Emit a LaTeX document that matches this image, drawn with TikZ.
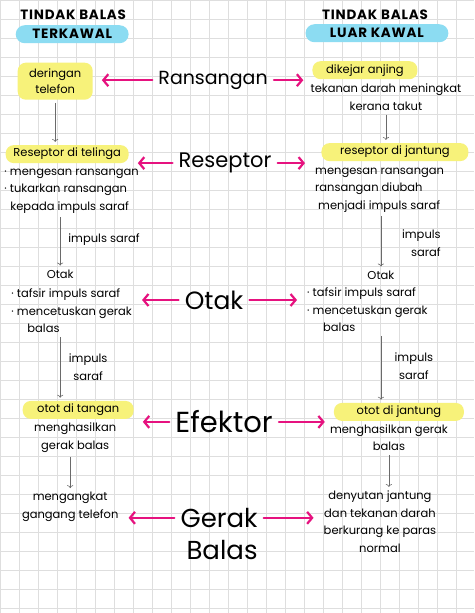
\documentclass[tikz,border=0pt]{standalone}
\usepackage{fontspec}
\setmainfont{Poppins}
\usetikzlibrary{calc, arrows.meta}

\definecolor{hlyellow}{HTML}{F7F27A}
\definecolor{hlcyan}{HTML}{8CDCF2}
\definecolor{arrowpink}{HTML}{E6127F}
\definecolor{gridgray}{HTML}{DEDEDE}
\definecolor{inkgray}{HTML}{6A6A6A}

\begin{document}
\begin{tikzpicture}[x=1pt, y=-1pt]
    \tikzstyle{marker} = [fill=hlyellow, rounded corners=8pt, minimum
        height=18pt, inner sep=2pt, font=\fontsize{11.5}{16}\selectfont]
    \tikzstyle{titlemark} = [fill=hlcyan, rounded corners=9pt, minimum
        height=18pt, inner sep=2pt,
        font=\bfseries\fontsize{13.5}{15}\selectfont\addfontfeature{LetterSpace=6}]
    \tikzstyle{heading} = [inner sep=1pt,
        font=\bfseries\fontsize{13.5}{15}\selectfont\addfontfeature{LetterSpace=6}]
    \tikzstyle{note} = [inner sep=1pt, font=\fontsize{11.5}{17.5}\selectfont]
    \tikzstyle{stage} = [inner sep=2pt]
    \tikzstyle{pinkarrow} = [-{Straight Barb[length=5pt, width=12pt]},
        arrowpink, line width=2.2pt, line cap=round, shorten <=4pt,
        shorten >=9pt]
    \tikzstyle{flow} = [->, inkgray, line width=.6pt, shorten <=3pt,
        shorten >=3pt]

    % Paper ---------------------------------------------
    \fill[white] (0,0) rectangle (474,613);
    \draw[gridgray, line width=.5pt, step=19pt] (0,613) grid (474,0);
    \useasboundingbox (0,0) rectangle (474,613);

    % Titles --------------------------------------------
    \node (TL) at (73, 15) [heading] {TINDAK BALAS};
    \node (TLm) at (72, 34) [titlemark, minimum width=113pt] {TERKAWAL};
    \node (TR) at (375, 15) [heading] {TINDAK BALAS};
    \node (TRm) at (377, 33) [titlemark, minimum width=143pt] {LUAR KAWAL};

    % Stages (middle) -----------------------------------
    \node (ransangan) at (213, 80) [stage, font=\fontsize{19}{22}\selectfont] {Ransangan};
    \node (reseptor) at (225, 163) [stage, font=\fontsize{21}{24}\selectfont] {Reseptor};
    \node (otak) at (214, 300) [stage, font=\fontsize{25}{28}\selectfont] {Otak};
    \node (efektor) at (224, 422) [stage, font=\fontsize{29}{30}\selectfont] {Efektor};
    \node (gerak) at (219, 518) [stage, font=\fontsize{26}{30}\selectfont] {Gerak};
    \node (balas) at (222, 550) [stage, font=\fontsize{26}{30}\selectfont] {Balas};

    % Tindak balas terkawal -----------------------------
    \node (L1) at (55, 81) [marker, minimum width=75pt, minimum height=37pt,
        align=center] {deringan\\telefon};
    \node (L2h) at (67, 154) [marker, minimum width=123pt] {Reseptor di telinga};
    \node (L2t) at (3, 191) [note, anchor=west, align=left]
        {· mengesan ransangan\\· tukarkan ransangan\\\hspace{6pt}kepada impuls saraf};
    \node (L3h) at (60, 274) [note] {Otak};
    \node (L3t) at (10, 311) [note, anchor=west, align=left]
        {· tafsir impuls saraf\\· mencetuskan gerak\\\hspace{16pt}balas};
    \node (L4h) at (78, 410) [marker, minimum width=111pt] {otot di tangan};
    \node (L4t) at (75, 438) [note, align=center] {menghasilkan\\gerak balas};
    \node (L5) at (70, 507) [note, align=center] {mengangkat\\gangang telefon};

    \node (Li1) at (67, 240) [note, anchor=west] {impuls saraf};
    \node (Li2) at (88, 367) [note, align=center] {impuls\\saraf};

    % Tindak balas luar kawal ---------------------------
    \node (R1h) at (365, 70) [marker, minimum width=105pt] {dikejar anjing};
    \node (R1t) at (386, 97) [note, align=center] {tekanan darah meningkat\\kerana takut};
    \node (R2h) at (395, 152) [marker, minimum width=147pt] {reseptor di jantung};
    \node (R2t) at (314, 190) [note, anchor=west, align=left]
        {mengesan ransangan\\ransangan diubah\\\hspace{3pt}menjadi impuls saraf};
    \node (R3h) at (381, 275) [note] {Otak};
    \node (R3t) at (306, 310) [note, anchor=west, align=left]
        {· tafsir impuls saraf\\· mencetuskan gerak\\\hspace{16pt}balas};
    \node (R4h) at (399, 412) [marker, minimum width=130pt] {otot di jantung};
    \node (R4t) at (389, 438) [note, align=center] {menghasilkan gerak\\balas};
    \node (R5) at (380, 522) [note, align=center]
        {denyutan jantung\\dan tekanan darah\\berkurang ke paras\\normal};

    \node (Ri1) at (442, 243) [note, anchor=east, align=right] {impuls\\saraf};
    \node (Ri2) at (414, 366) [note, align=center] {impuls\\saraf};

    % Pink arrows ---------------------------------------
    \draw[pinkarrow] (ransangan.west) -- (ransangan.west -| L1.east);
    \draw[pinkarrow] (ransangan.east) -- (ransangan.east -| R1h.west);
    \draw[pinkarrow] (reseptor.west) -- (reseptor.west -| L2h.east);
    \draw[pinkarrow] (reseptor.east) -- (reseptor.east -| R2t.west);
    \draw[pinkarrow] (otak.west) -- (otak.west -| L3t.east);
    \draw[pinkarrow] (otak.east) -- (otak.east -| R3t.west);
    \draw[pinkarrow] (efektor.west) -- (efektor.west -| L4h.east);
    \draw[pinkarrow] (efektor.east) -- (efektor.east -| R4h.west);
    \draw[pinkarrow] (gerak.west) -- (gerak.west -| L5.east);
    \draw[pinkarrow] (gerak.east) -- (gerak.east -| R5.west);

    % Gray flow arrows ----------------------------------
    \draw[flow] (L1.south) -- (L1.south |- L2h.north);
    \draw[flow] (L3h |- L2t.south) -- (L3h.north);
    \draw[flow] (L3h |- L3t.south) -- (L3h |- L4h.north);
    \draw[flow] (L5 |- L4t.south) -- (L5.north);

    \draw[flow] (R1t.south) -- (R1t.south |- R2h.north);
    \draw[flow] (R3h |- R2t.south) -- (R3h.north);
    \draw[flow] (R3h |- R3t.south) -- (R3h |- R4h.north);
    \draw[flow] (R4t.south) -- (R4t.south |- R5.north);
\end{tikzpicture}
\end{document}
